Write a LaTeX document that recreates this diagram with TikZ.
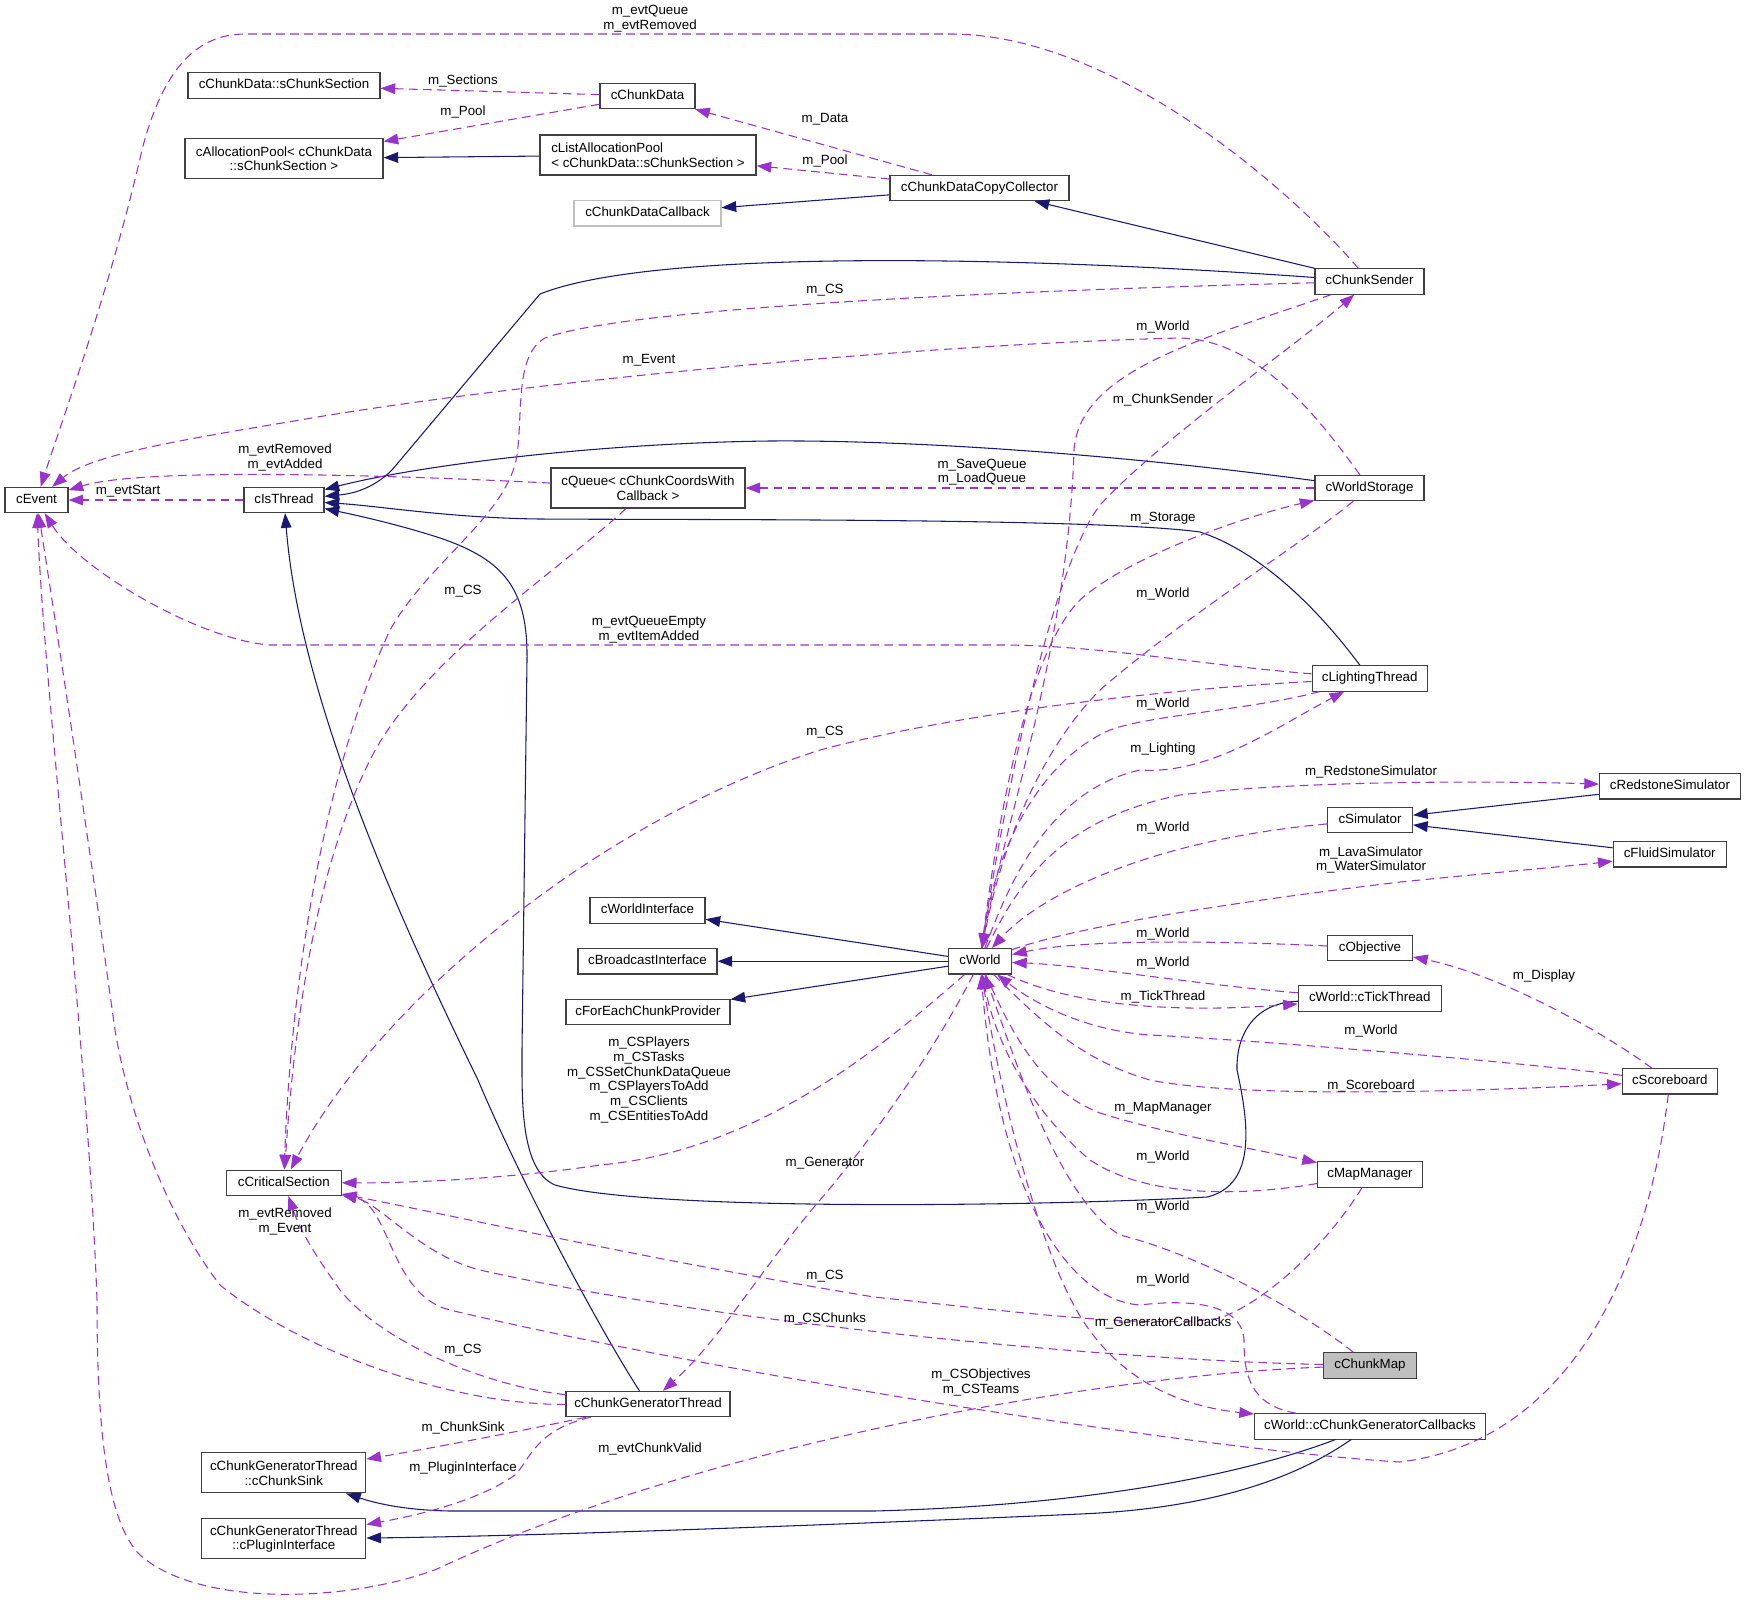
\documentclass[tikz,border=0pt]{standalone}
\usepackage{fontspec}
\setmainfont{Liberation Sans}
\usetikzlibrary{arrows.meta}
\definecolor{inhcol}{HTML}{191970}
\definecolor{memcol}{HTML}{9A32CD}
\definecolor{boxgrey}{HTML}{BFBFBF}
\begin{document}
\begin{tikzpicture}[x=0.75pt,y=-0.75pt,
  every node/.style={font=\fontsize{10}{11}\selectfont},
  cls/.style={draw=black!75,line width=0.8pt,fill=white,inner sep=0pt,
    minimum height=19pt,text height=7.3pt,text depth=2.1pt,minimum width=#1},
  cls2/.style={draw=black!75,line width=0.8pt,fill=white,inner sep=0pt,
    minimum height=30pt,align=center,minimum width=#1},
  inhedge/.style={inhcol,line width=0.8pt,-{Triangle[length=11pt,width=8pt]}},
  memedge/.style={memcol,line width=0.8pt,dash pattern=on 6.5pt off 4pt,-{Triangle[length=11pt,width=8pt]}},
  lbl/.style={inner sep=0pt,align=center}]
\useasboundingbox (0,0) rectangle (1745,1606);
% classes
\node[cls=144pt] (sChunkSection) at (284,85.5) {cChunkData::sChunkSection};
\node[cls2=148.5pt] (cAllocationPool) at (284,158.6) {cAllocationPool< cChunkData\\::sChunkSection >};
\node[cls=47.25pt] (cEvent) at (36.5,500) {cEvent};
\node[cls=60pt] (cIsThread) at (284,500) {cIsThread};
\node[cls=71.25pt] (cChunkData) at (647.5,96) {cChunkData};
\node[cls2=162pt,align=left] (cListAllocationPool) at (648,155) {cListAllocationPool\\< cChunkData::sChunkSection >};
\node[cls=110.25pt,draw=boxgrey] (cChunkDataCallback) at (647.5,213.3) {cChunkDataCallback};
\node[cls2=145.5pt] (cQueue) at (648,488) {cQueue< cChunkCoordsWith\\Callback >};
\node[cls=134.25pt] (cChunkDataCopyCollector) at (979.5,188) {cChunkDataCopyCollector};
\node[cls=81.75pt] (cChunkSender) at (1369.5,281.4) {cChunkSender};
\node[cls=81.75pt] (cWorldStorage) at (1369.5,488) {cWorldStorage};
\node[cls=86.25pt] (cLightingThread) at (1369.7,678.4) {cLightingThread};
\node[cls=105.75pt] (cRedstoneSimulator) at (1670,786.3) {cRedstoneSimulator};
\node[cls=63.75pt] (cSimulator) at (1370,820) {cSimulator};
\node[cls=84.75pt] (cFluidSimulator) at (1669.7,854.3) {cFluidSimulator};
\node[cls=86.25pt] (cWorldInterface) at (647.5,910.4) {cWorldInterface};
\node[cls=104.25pt] (cBroadcastInterface) at (647.5,961.3) {cBroadcastInterface};
\node[cls=123pt] (cForEachChunkProvider) at (648,1012) {cForEachChunkProvider};
\node[cls=47.25pt] (cWorld) at (980,961.3) {cWorld};
\node[cls=63.75pt] (cObjective) at (1370,948) {cObjective};
\node[cls=107.25pt] (cTickThread) at (1369.8,998.5) {cWorld::cTickThread};
\node[cls=71.25pt] (cScoreboard) at (1669.8,1081.3) {cScoreboard};
\node[cls=86.25pt] (cCriticalSection) at (283.8,1182.7) {cCriticalSection};
\node[cls=78.75pt] (cMapManager) at (1370,1174.5) {cMapManager};
\node[cls=69.75pt,fill=boxgrey] (cChunkMap) at (1370,1365.4) {cChunkMap};
\node[cls=123pt] (cChunkGeneratorThread) at (648,1404) {cChunkGeneratorThread};
\node[cls=173.25pt] (cGeneratorCallbacks) at (1370,1426.4) {cWorld::cChunkGeneratorCallbacks};
\node[cls2=123pt] (cChunkSink) at (283.8,1472.9) {cChunkGeneratorThread\\::cChunkSink};
\node[cls2=123pt] (cPluginInterface) at (283.8,1538.9) {cChunkGeneratorThread\\::cPluginInterface};
% inheritance
\draw[inhedge] (cListAllocationPool) -- (cAllocationPool);
\draw[inhedge] (cChunkDataCopyCollector) -- (cChunkDataCallback);
\draw[inhedge] (cChunkSender) -- (cChunkDataCopyCollector);
\draw[inhedge] (cChunkSender) .. controls (1000,255) and (650,250) .. (540,294) -- (392,470) .. controls (372,490) and (350,494) .. (cIsThread);
\draw[inhedge] (cWorldStorage) .. controls (1100,452) and (900,440) .. (770,441) .. controls (600,443) and (420,465) .. (cIsThread);
\draw[inhedge] (cLightingThread) .. controls (1330,625) and (1270,555) .. (1200,532) .. controls (1100,518) and (700,520) .. (540,519) .. controls (450,518) and (380,506) .. (cIsThread);
\draw[inhedge] (cTickThread) .. controls (1250,1003) and (1236,1040) .. (1237,1070) .. controls (1248,1120) and (1258,1185) .. (1207,1197) .. controls (1050,1206) and (650,1212) .. (555,1185) .. controls (520,1170) and (522,1100) .. (522,1050) -- (527,660) .. controls (528,590) and (505,560) .. (440,538) .. controls (400,525) and (360,516) .. (cIsThread);
\draw[inhedge] (cChunkGeneratorThread) .. controls (600,1330) and (520,1180) .. (478,1080) .. controls (400,920) and (300,700) .. (cIsThread);
\draw[inhedge] (cRedstoneSimulator) -- (cSimulator);
\draw[inhedge] (cFluidSimulator) -- (cSimulator);
\draw[inhedge] (cWorld) -- (cWorldInterface);
\draw[inhedge] (cWorld) -- (cBroadcastInterface);
\draw[inhedge] (cWorld) -- (cForEachChunkProvider);
\draw[inhedge] (cGeneratorCallbacks) .. controls (1250,1472) and (1100,1505) .. (874,1511) -- (450,1511) .. controls (400,1510) and (372,1502) .. (cChunkSink);
\draw[inhedge] (cGeneratorCallbacks) .. controls (1300,1475) and (1220,1508) .. (1080,1514) .. controls (900,1522) and (550,1536) .. (cPluginInterface);
% members
\draw[memedge] (cChunkData) -- (sChunkSection);
\draw[memedge] (cChunkData) -- (cAllocationPool);
\draw[memedge] (cChunkDataCopyCollector) -- (cChunkData);
\draw[memedge] (cChunkDataCopyCollector) -- (cListAllocationPool);
\draw[memedge] (cChunkSender) .. controls (1300,200) and (1120,34) .. (950,34) -- (245,34) .. controls (190,34) and (160,80) .. (142,150) .. controls (110,290) and (62,420) .. (cEvent);
\draw[memedge] (cChunkSender) .. controls (950,292) and (620,310) .. (545,338) .. controls (515,355) and (523,410) .. (517,455) .. controls (508,515) and (430,560) .. (390,630) .. controls (320,780) and (290,1000) .. (cCriticalSection);
\draw[memedge] (cChunkSender) .. controls (1200,340) and (1080,370) .. (1074,450) .. controls (1068,650) and (1000,840) .. (cWorld);
\draw[memedge] (cWorld) .. controls (1000,820) and (1050,570) .. (1100,505) .. controls (1160,440) and (1290,350) .. (cChunkSender);
\draw[memedge] (cWorldStorage) .. controls (1320,420) and (1260,340) .. (1180,338) .. controls (900,345) and (500,385) .. (300,420) .. controls (180,440) and (90,455) .. (cEvent);
\draw[memedge] (cWorldStorage) -- (cQueue);
\draw[memedge] (cWorldStorage) .. controls (1300,545) and (1180,620) .. (1100,690) .. controls (1040,750) and (1000,850) .. (cWorld);
\draw[memedge] (cWorld) .. controls (1000,800) and (1030,650) .. (1080,600) .. controls (1130,555) and (1250,515) .. (cWorldStorage);
\draw[memedge] (cQueue) .. controls (450,478) and (150,465) .. (cEvent);
\draw[memedge] (cQueue) .. controls (560,570) and (420,660) .. (370,760) .. controls (320,860) and (296,1000) .. (cCriticalSection);
\draw[memedge] (cIsThread) -- (cEvent);
\draw[memedge] (cLightingThread) .. controls (1200,665) and (1100,645) .. (1000,645) -- (270,645) .. controls (200,640) and (80,570) .. (cEvent);
\draw[memedge] (cLightingThread) .. controls (1150,690) and (950,715) .. (820,750) .. controls (600,820) and (380,1000) .. (cCriticalSection);
\draw[memedge] (cLightingThread) .. controls (1250,710) and (1150,715) .. (1110,730) .. controls (1040,760) and (995,850) .. (cWorld);
\draw[memedge] (cWorld) .. controls (1010,880) and (1050,790) .. (1140,770) .. controls (1210,775) and (1280,725) .. (cLightingThread);
\draw[memedge] (cWorld) .. controls (1020,880) and (1060,820) .. (1180,795) .. controls (1300,780) and (1500,781) .. (cRedstoneSimulator);
\draw[memedge] (cSimulator) .. controls (1150,840) and (1040,895) .. (cWorld);
\draw[memedge] (cWorld) .. controls (1080,925) and (1250,900) .. (1400,882) .. controls (1500,872) and (1580,865) .. (cFluidSimulator);
\draw[memedge] (cObjective) .. controls (1200,940) and (1080,940) .. (cWorld);
\draw[memedge] (cTickThread) .. controls (1200,985) and (1080,965) .. (cWorld);
\draw[memedge] (cWorld) .. controls (1060,1000) and (1150,1015) .. (cTickThread);
\draw[memedge] (cScoreboard) .. controls (1500,1060) and (1250,1040) .. (1150,1035) .. controls (1080,1030) and (1030,1000) .. (cWorld);
\draw[memedge] (cWorld) .. controls (1040,1020) and (1080,1060) .. (1150,1080) .. controls (1250,1100) and (1500,1090) .. (cScoreboard);
\draw[memedge] (cScoreboard) .. controls (1600,1030) and (1500,975) .. (cObjective);
\draw[memedge] (cWorld) .. controls (900,1030) and (770,1150) .. (600,1165) .. controls (500,1180) and (400,1183) .. (cCriticalSection);
\draw[memedge] (cWorld) .. controls (1010,1030) and (1040,1090) .. (1100,1113) .. controls (1170,1135) and (1260,1150) .. (cMapManager);
\draw[memedge] (cMapManager) .. controls (1250,1195) and (1150,1200) .. (1090,1160) .. controls (1030,1110) and (995,1040) .. (cWorld);
\draw[memedge] (cWorld) .. controls (940,1040) and (880,1130) .. (820,1200) .. controls (760,1270) and (720,1340) .. (cChunkGeneratorThread);
\draw[memedge] (cChunkMap) .. controls (1300,1310) and (1200,1255) .. (1120,1235) .. controls (1060,1200) and (1015,1060) .. (cWorld);
\draw[memedge] (cGeneratorCallbacks) .. controls (1250,1405) and (1244,1375) .. (1244,1340) .. controls (1242,1300) and (1180,1300) .. (1140,1305) .. controls (1070,1300) and (1000,1200) .. (cWorld);
\draw[memedge] (cWorld) .. controls (1000,1100) and (1040,1250) .. (1080,1316) .. controls (1110,1365) and (1160,1404) .. (cGeneratorCallbacks);
\draw[memedge] (cMapManager) .. controls (1330,1240) and (1270,1300) .. (1220,1318) .. controls (1150,1330) and (1000,1310) .. (874,1297) .. controls (650,1260) and (450,1215) .. (cCriticalSection);
\draw[memedge] (cChunkMap) .. controls (1100,1360) and (700,1320) .. (480,1270) .. controls (420,1255) and (380,1203) .. (cCriticalSection);
\draw[memedge] (cScoreboard) .. controls (1650,1250) and (1580,1440) .. (1400,1462) .. controls (1200,1450) and (700,1370) .. (450,1310) .. controls (390,1295) and (390,1205) .. (cCriticalSection);
\draw[memedge] (cChunkMap) .. controls (1100,1375) and (700,1445) .. (437,1569) .. controls (350,1602) and (200,1608) .. (140,1555) .. controls (105,1520) and (97,1420) .. (97,1300) .. controls (88,1050) and (45,700) .. (cEvent);
\draw[memedge] (cChunkGeneratorThread) .. controls (480,1385) and (380,1340) .. (340,1290) .. controls (315,1255) and (300,1230) .. (cCriticalSection);
\draw[memedge] (cChunkGeneratorThread) .. controls (450,1405) and (300,1350) .. (220,1285) .. controls (170,1220) and (130,1120) .. (115,1030) .. controls (90,850) and (60,650) .. (cEvent);
\draw[memedge] (cChunkGeneratorThread) .. controls (540,1427) and (450,1445) .. (cChunkSink);
\draw[memedge] (cChunkGeneratorThread) .. controls (535,1430) and (530,1460) .. (515,1475) .. controls (480,1500) and (420,1515) .. (cPluginInterface);
% edge labels
\foreach \lx/\ly/\lt [count=\k] in {463/80.7/m\_Sections, 463/111.5/m\_Pool,
  825/119.7/m\_Data, 825/160.7/m\_Pool, 825/290/m\_CS, 1163/326.5/m\_World,
  649/360.7/m\_Event, 1163/400.3/m\_ChunkSender, 128/491.6/m\_evtStart,
  1163/518.6/m\_Storage, 463/591.4/m\_CS, 1163/594.1/m\_World,
  1163/703.5/m\_World, 825/732.2/m\_CS, 1163/748.6/m\_Lighting,
  1371/771.9/m\_RedstoneSimulator, 1163/828.3/m\_World, 1163/934.3/m\_World,
  1163/963.4/m\_World, 1544/976/m\_Display, 1163/996.5/m\_TickThread,
  1371/1030.7/m\_World, 1371/1086/m\_Scoreboard, 1163/1108.6/m\_MapManager,
  1163/1156.5/m\_World, 825/1163.3/m\_Generator, 1163/1207.1/m\_World,
  825/1276.5/m\_CS, 1163/1280.3/m\_World, 825/1318.5/m\_CSChunks,
  1163/1323.3/m\_GeneratorCallbacks, 463/1350.3/m\_CS, 463/1428.3/m\_ChunkSink,
  650/1448.5/m\_evtChunkValid, 463/1467.6/m\_PluginInterface}
  \node[lbl] (lab\k) at (\lx,\ly) {\lt};
\node[lbl] (labQueue) at (650,18.8) {m\_evtQueue\\m\_evtRemoved};
\node[lbl] (labAdded) at (285,457.5) {m\_evtRemoved\\m\_evtAdded};
\node[lbl] (labSave) at (982,472) {m\_SaveQueue\\m\_LoadQueue};
\node[lbl] (labEmpty) at (649,629.4) {m\_evtQueueEmpty\\m\_evtItemAdded};
\node[lbl] (labFluid) at (1371,860.1) {m\_LavaSimulator\\m\_WaterSimulator};
\node[lbl] (labPlayers) at (649,1079.9) {m\_CSPlayers\\m\_CSTasks\\m\_CSSetChunkDataQueue\\m\_CSPlayersToAdd\\m\_CSClients\\m\_CSEntitiesToAdd};
\node[lbl] (labGenEvt) at (285,1221.5) {m\_evtRemoved\\m\_Event};
\node[lbl] (labTeams) at (981,1382.8) {m\_CSObjectives\\m\_CSTeams};
\end{tikzpicture}
\end{document}
